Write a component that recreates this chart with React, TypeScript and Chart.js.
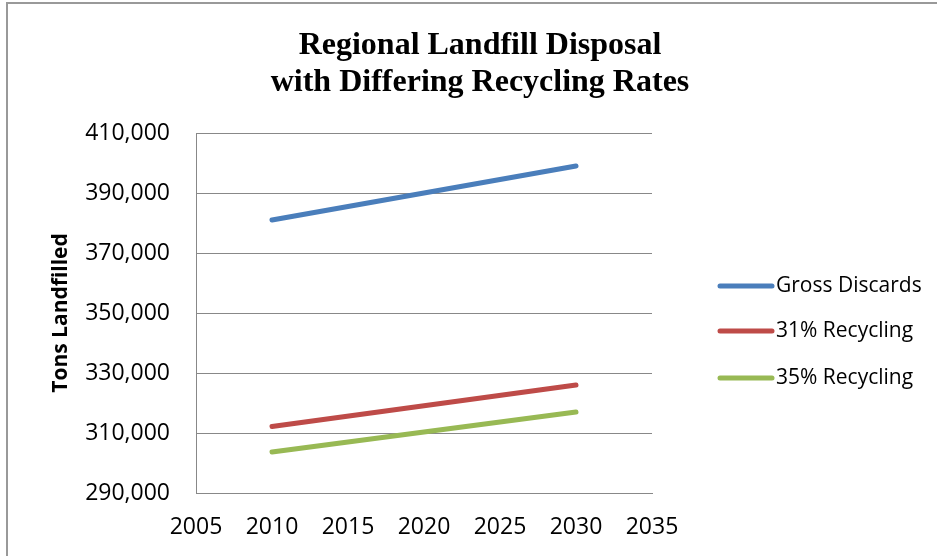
import React, { useEffect, useRef } from "react";
import { Chart, registerables } from "chart.js";

Chart.register(...registerables);

const TITLE_LINES = ["Regional Landfill Disposal", "with Differing Recycling Rates"];
const Y_TITLE = "Tons Landfilled";
const YEARS = [2010, 2030];
const SERIES_NAMES = ["Gross Discards", "31% Recycling", "35% Recycling"];
const GROSS = [381000, 399000];
const REC31 = [312200, 326000];
const REC35 = [303700, 317000];
const COLORS = ["#4A7EBB", "#BE4B48", "#98B954"];
const X_MIN = 2005;
const X_MAX = 2035;
const X_STEP = 5;
const Y_MIN = 290000;
const Y_MAX = 410000;
const Y_STEP = 20000;

const SANS = "'Open Sans', 'Noto Sans', sans-serif";

const framePlugin = {
  id: "frame",
  beforeDraw(chart: any) {
    const { ctx, width, height } = chart;
    ctx.save();
    ctx.fillStyle = "#ffffff";
    ctx.fillRect(0, 0, width, height);
    ctx.strokeStyle = "#999999";
    ctx.lineWidth = 2;
    ctx.beginPath();
    ctx.moveTo(7, height);
    ctx.lineTo(7, 3);
    ctx.lineTo(width, 3);
    ctx.stroke();
    ctx.restore();
  },
  afterDraw(chart: any) {
    const { ctx } = chart;
    ctx.save();
    // title
    ctx.fillStyle = "#000";
    ctx.font = "bold 32px 'Liberation Serif', 'Times New Roman', serif";
    ctx.textAlign = "center";
    ctx.textBaseline = "middle";
    TITLE_LINES.forEach((t, i) => ctx.fillText(t, 480, 46 + i * 37));
    // legend
    const ys = [286, 331, 378];
    chart.data.datasets.forEach((ds: any, i: number) => {
      const y = ys[i];
      ctx.strokeStyle = ds.borderColor;
      ctx.lineWidth = 5;
      ctx.lineCap = "round";
      ctx.beginPath();
      ctx.moveTo(720, y);
      ctx.lineTo(772, y);
      ctx.stroke();
      ctx.fillStyle = "#000";
      ctx.font = `21px ${SANS}`;
      ctx.textAlign = "left";
      ctx.textBaseline = "middle";
      ctx.fillText(ds.label, 776, y);
    });
    ctx.restore();
  },
};

export default function App() {
  const ref = useRef<HTMLCanvasElement | null>(null);
  useEffect(() => {
    if (!ref.current) return;
    const mk = (vals: number[]) => YEARS.map((x, i) => ({ x, y: vals[i] }));
    const chart = new Chart(ref.current, {
      type: "line",
      data: {
        datasets: [
          { label: SERIES_NAMES[0], data: mk(GROSS), borderColor: COLORS[0], backgroundColor: COLORS[0] },
          { label: SERIES_NAMES[1], data: mk(REC31), borderColor: COLORS[1], backgroundColor: COLORS[1] },
          { label: SERIES_NAMES[2], data: mk(REC35), borderColor: COLORS[2], backgroundColor: COLORS[2] },
        ].map((d) => ({ ...d, borderWidth: 5, pointRadius: 0, borderCapStyle: "round", tension: 0 })) as any,
      },
      options: {
        animation: false,
        responsive: false,
        layout: { padding: { top: 133, right: 285, bottom: 0, left: 0 } },
        plugins: {
          legend: { display: false },
          title: { display: false },
          tooltip: { enabled: false },
        },
        scales: {
          x: {
            type: "linear",
            min: X_MIN,
            max: X_MAX,
            ticks: {
              stepSize: X_STEP,
              color: "#000",
              font: { family: SANS, size: 23 },
              padding: 13,
              callback: (v: any) => String(v),
            },
            grid: { display: false },
            border: { display: true, color: "#888", width: 1 },
            afterFit: (s: any) => {
              s.height = 63;
            },
          },
          y: {
            type: "linear",
            min: Y_MIN,
            max: Y_MAX,
            ticks: {
              stepSize: Y_STEP,
              color: "#000",
              font: { family: SANS, size: 23 },
              padding: 26,
              callback: (v: any) => Number(v).toLocaleString("en-US"),
            },
            grid: { color: "#888", lineWidth: 1, drawTicks: false },
            border: { display: true, color: "#888", width: 1 },
            title: {
              display: true,
              text: Y_TITLE,
              color: "#000",
              font: { family: SANS, size: 21, weight: "bold" },
              padding: { top: 48, bottom: 0 },
            },
            afterFit: (s: any) => {
              s.width = 196;
            },
          },
        },
      },
      plugins: [framePlugin],
    } as any);
    return () => chart.destroy();
  }, []);
  return (
    <div style={{ position: "absolute", left: 0, top: 0, width: 937, height: 556 }}>
      <canvas ref={ref} width={937} height={556} style={{ display: "block" }} />
    </div>
  );
}
